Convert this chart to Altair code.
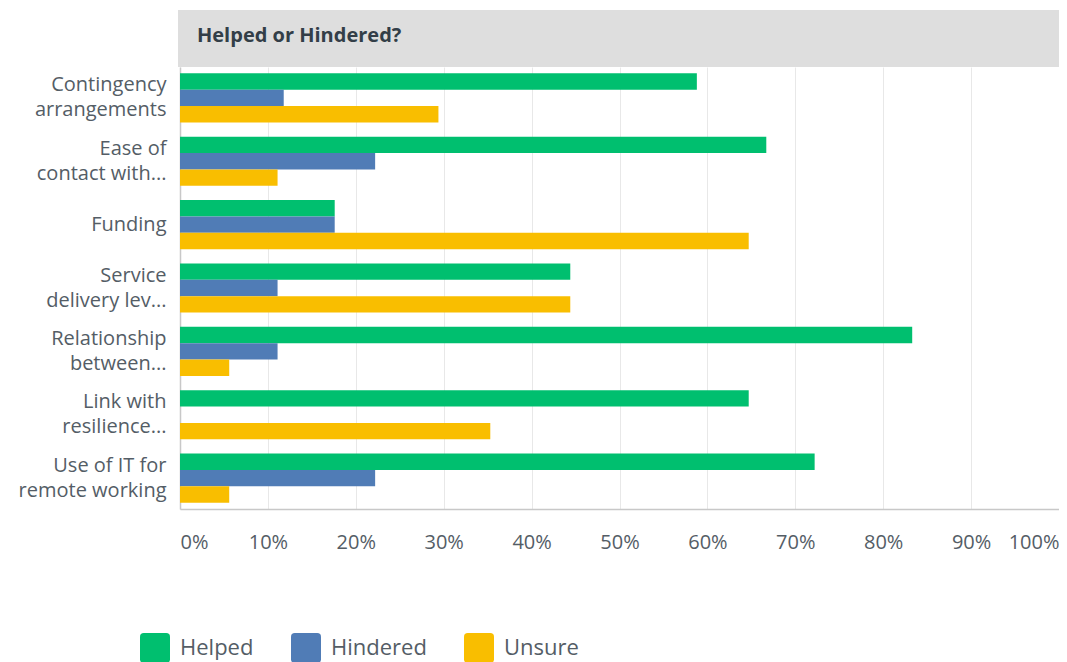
import altair as alt
import pandas as pd

categories = ["Contingency|arrangements", "Ease of|contact with...", "Funding",
              "Service|delivery lev...", "Relationship|between...",
              "Link with|resilience...", "Use of IT for|remote working"]
series = ["Helped", "Hindered", "Unsure"]
helped = [58.8, 66.7, 17.6, 44.4, 83.3, 64.7, 72.2]
hindered = [11.8, 22.2, 17.6, 11.1, 11.1, 0.0, 22.2]
unsure = [29.4, 11.1, 64.7, 44.4, 5.6, 35.3, 5.6]
colors = ["#00BF6F", "#507CB6", "#F9BE00"]
tick_values = [0, 10, 20, 30, 40, 50, 60, 70, 80, 90, 100]
header_title = "Helped or Hindered?"

rows = []
for i, c in enumerate(categories):
    for s, vals in zip(series, [helped, hindered, unsure]):
        rows.append({"category": c, "series": s, "value": vals[i]})
df = pd.DataFrame(rows)

FONT = "Open Sans"
LABEL_COLOR = "#545d66"
rounded = "M -0.75,-1 L 0.75,-1 Q 1,-1 1,-0.75 L 1,0.75 Q 1,1 0.75,1 L -0.75,1 Q -1,1 -1,0.75 L -1,-0.75 Q -1,-1 -0.75,-1 Z"

W = 879
H = 442

bars = alt.Chart(df).mark_bar().encode(
    x=alt.X("value:Q", scale=alt.Scale(domain=[0, 100], nice=False),
            axis=alt.Axis(values=tick_values, labelExpr="datum.value + '%'", title=None,
                          ticks=False, labelPadding=23, labelFontSize=20, labelFont=FONT,
                          labelColor=LABEL_COLOR, grid=True, gridColor="#e8e8e8",
                          domainColor="#c8c8c8", domainWidth=1.5, labelFlush=True)),
    y=alt.Y("category:N", sort=categories,
            scale=alt.Scale(paddingInner=0.225, paddingOuter=0.1),
            axis=alt.Axis(title=None, ticks=False, labelPadding=14, labelFontSize=20,
                          labelFont=FONT, labelColor=LABEL_COLOR, labelLineHeight=25,
                          labelExpr="split(datum.label, '|')", labelLimit=300,
                          labelOffset={"condition": {"test": "indexof(datum.label, '|') >= 0",
                                                     "value": -12.5}, "value": 0},
                          domainColor="#c8c8c8", domainWidth=1.5, grid=False)),
    yOffset=alt.YOffset("series:N", sort=series,
                        scale=alt.Scale(paddingInner=0, paddingOuter=0)),
    color=alt.Color("series:N", sort=series,
                    scale=alt.Scale(domain=series, range=colors),
                    legend=alt.Legend(orient="none", legendX=-40, legendY=566,
                                      direction="horizontal", title=None,
                                      symbolType=rounded, symbolSize=900,
                                      symbolStrokeWidth=0, symbolOpacity=1,
                                      labelFontSize=22, labelFont=FONT, labelColor=LABEL_COLOR,
                                      labelOffset=10, columnPadding=37)),
)

header_df = pd.DataFrame({"title": [header_title]})
header_rect = alt.Chart(header_df).mark_rect(color="#dedede").encode(
    x=alt.value(-2), x2=alt.value(W + 1), y=alt.value(-57), y2=alt.value(0))
header_text = alt.Chart(header_df).mark_text(
    align="left", baseline="middle", fontWeight="bold", fontSize=20, font=FONT,
    color="#333e48").encode(x=alt.value(17), y=alt.value(-31), text="title:N")

chart = alt.layer(header_rect, header_text, bars).properties(
    width=W, height=H,
    autosize=alt.AutoSizeParams(type="none"),
    padding={"left": 172, "top": 59, "right": 0, "bottom": 153},
).configure_view(stroke=None)

chart.save("out.html", embed_options={"renderer": "svg", "actions": False})
